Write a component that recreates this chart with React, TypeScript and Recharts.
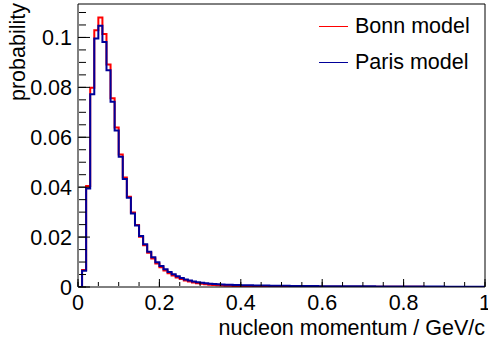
import React from 'react';
import { LineChart, Line, XAxis, YAxis, Legend, Label } from 'recharts';

// lower bin edges (GeV/c), plus the upper edge of the last bin
const binEdges = [
  0, 0.01, 0.02, 0.03, 0.04, 0.05, 0.06, 0.07, 0.08, 0.09,
  0.1, 0.11, 0.12, 0.13, 0.14, 0.15, 0.16, 0.17, 0.18, 0.19,
  0.2, 0.21, 0.22, 0.23, 0.24, 0.25, 0.26, 0.27, 0.28, 0.29,
  0.3, 0.31, 0.32, 0.33, 0.34, 0.35, 0.36, 0.37, 0.38, 0.39,
  0.4, 0.41, 0.42, 0.43, 0.44, 0.45, 0.46, 0.47, 0.48, 0.49,
  0.5, 0.51, 0.52, 0.53, 0.54, 0.55, 0.56, 0.57, 0.58, 0.59,
  0.6, 0.61, 0.62, 0.63, 0.64, 0.65, 0.66, 0.67, 0.68, 0.69,
  0.7, 0.71, 0.72, 0.73, 0.74, 0.75, 0.76, 0.77, 0.78, 0.79,
  0.8, 0.81, 0.82, 0.83, 0.84, 0.85, 0.86, 0.87, 0.88, 0.89,
  0.9, 0.91, 0.92, 0.93, 0.94, 0.95, 0.96, 0.97, 0.98, 0.99,
  1,
];

const bonn = [
  0, 0.0068, 0.0405, 0.0798, 0.1029, 0.108, 0.1014, 0.0892, 0.0756, 0.0639,
  0.0531, 0.0439, 0.0362, 0.0299, 0.0248, 0.0201, 0.0167, 0.0137, 0.0114, 0.0094,
  0.0079, 0.0066, 0.0055, 0.0046, 0.0038, 0.0032, 0.0026, 0.0022, 0.0018, 0.0015,
  0.0013, 0.0011, 0.0009, 0.0008, 0.0007, 0.0006, 0.0005, 0.0005, 0.0004, 0.0004,
  0.0003, 0.0003, 0.0003, 0.0003, 0.0003, 0.0002, 0.0002, 0.0002, 0.0002, 0.0002,
  0.0002, 0.0002, 0.0002, 0.0001, 0.0001, 0.0001, 0.0001, 0.0001, 0.0001, 0.0001,
  0.0001, 0.0001, 0.0001, 0.0001, 0.0001, 0.0001, 0.0001, 0.0001, 0.0001, 0.0001,
  0.0001, 0.0001, 0.0001, 0.0001, 0.0001, 0.0001, 0.0001, 0.0001, 0.0001, 0.0001,
  0.0001, 0.0001, 0.0001, 0.0001, 0.0001, 0, 0, 0, 0, 0,
  0, 0, 0, 0, 0, 0, 0, 0, 0, 0,
];

const paris = [
  0, 0.0065, 0.0395, 0.0772, 0.0996, 0.1047, 0.0982, 0.0869, 0.0742, 0.0627,
  0.0522, 0.0433, 0.0358, 0.0295, 0.0246, 0.0204, 0.0171, 0.0141, 0.0119, 0.0099,
  0.0084, 0.0071, 0.006, 0.0051, 0.0043, 0.0036, 0.003, 0.0026, 0.0022, 0.0019,
  0.0017, 0.0015, 0.0013, 0.0012, 0.0011, 0.001, 0.0009, 0.0009, 0.0008, 0.0008,
  0.0007, 0.0007, 0.0007, 0.0006, 0.0006, 0.0006, 0.0006, 0.0005, 0.0005, 0.0005,
  0.0005, 0.0005, 0.0004, 0.0004, 0.0004, 0.0004, 0.0004, 0.0004, 0.0004, 0.0003,
  0.0003, 0.0003, 0.0003, 0.0003, 0.0003, 0.0003, 0.0003, 0.0003, 0.0003, 0.0003,
  0.0003, 0.0003, 0.0003, 0.0002, 0.0002, 0.0002, 0.0002, 0.0002, 0.0002, 0.0002,
  0.0002, 0.0002, 0.0002, 0.0002, 0.0002, 0.0002, 0.0002, 0.0002, 0.0002, 0.0002,
  0.0001, 0.0001, 0.0001, 0.0001, 0.0001, 0.0001, 0.0001, 0.0001, 0.0001, 0.0001,
];

const xTicks = [0, 0.2, 0.4, 0.6, 0.8, 1];
const xMinorTicks = [
  0, 0.05, 0.1, 0.15, 0.2, 0.25, 0.3, 0.35, 0.4, 0.45, 0.5,
  0.55, 0.6, 0.65, 0.7, 0.75, 0.8, 0.85, 0.9, 0.95, 1,
];
const yTicks = [0, 0.02, 0.04, 0.06, 0.08, 0.1];
const yMinorTicks = [
  0, 0.005, 0.01, 0.015, 0.02, 0.025, 0.03, 0.035, 0.04, 0.045, 0.05, 0.055,
  0.06, 0.065, 0.07, 0.075, 0.08, 0.085, 0.09, 0.095, 0.1, 0.105, 0.11,
];
const yMax = 0.1134;

const seriesNames = { bonn: 'Bonn model', paris: 'Paris model' };
const RED = '#ff0000';
const BLUE = '#000099';
const FONT = '"Liberation Sans", Arial, Helvetica, sans-serif';
const FS = 21.5;

// histogram drawn as steps: the last bin is repeated at the upper edge
const data = binEdges.map((p, i) => {
  const j = Math.min(i, bonn.length - 1);
  return { p, bonn: bonn[j], paris: paris[j] };
});

const tickStyle = { fill: '#000', fontSize: FS, fontFamily: FONT };
const noLabel = () => <g />;

function LegendBox({ payload }: any) {
  return (
    <div style={{ fontFamily: FONT, fontSize: FS, color: '#000' }}>
      {(payload || []).map((item: any) => (
        <div key={item.value} style={{ display: 'flex', alignItems: 'center', height: 36 }}>
          <div style={{ width: 29, height: 0, borderTop: `1.5px solid ${item.color}`, marginRight: 7 }} />
          <span style={{ whiteSpace: 'nowrap' }}>{item.value}</span>
        </div>
      ))}
    </div>
  );
}

export default function App() {
  return (
    <div style={{ position: 'fixed', left: 0, top: 0, width: 488, height: 342, background: '#fff' }}>
      <LineChart width={488} height={342} data={data} margin={{ top: 4, right: 3, left: 0, bottom: 0 }}>
        {/* labelled axes */}
        <XAxis
          xAxisId="main" dataKey="p" type="number" domain={[0, 1]} allowDataOverflow
          ticks={xTicks} interval={0} tickLine={false} tickSize={0} tickMargin={8}
          axisLine={{ stroke: '#000' }} tick={tickStyle} height={55}
          tickFormatter={(v) => String(v)}
        >
          <Label
            content={({ viewBox }: any) => (
              <text x={viewBox.x + viewBox.width} y={335} textAnchor="end"
                fontFamily={FONT} fontSize={FS} fill="#000">
                nucleon momentum / GeV/c
              </text>
            )}
          />
        </XAxis>
        <YAxis
          yAxisId="main" type="number" domain={[0, yMax]} allowDataOverflow
          ticks={yTicks} interval={0} tickLine={false} tickSize={0} tickMargin={6}
          axisLine={{ stroke: '#000' }} tick={tickStyle} width={78}
          tickFormatter={(v) => String(v)}
        >
          <Label
            content={() => (
              <text x={25} y={3} transform="rotate(-90 25 3)" textAnchor="end"
                fontFamily={FONT} fontSize={FS} fill="#000">
                probability
              </text>
            )}
          />
        </YAxis>

        {/* inward ticks (mirrored axes need a non-zero size to be drawn) */}
        <XAxis xAxisId="major" dataKey="p" type="number" domain={[0, 1]} allowDataOverflow mirror height={1}
          ticks={xTicks} interval={0} tick={noLabel} tickSize={8} axisLine={false}
          tickLine={{ stroke: '#000' }} />
        <XAxis xAxisId="minor" dataKey="p" type="number" domain={[0, 1]} allowDataOverflow mirror height={1}
          ticks={xMinorTicks} interval={0} tick={noLabel} tickSize={4} axisLine={false}
          tickLine={{ stroke: '#000' }} />
        <YAxis yAxisId="major" type="number" domain={[0, yMax]} allowDataOverflow mirror width={1}
          ticks={yTicks} interval={0} tick={noLabel} tickSize={12} axisLine={false}
          tickLine={{ stroke: '#000' }} />
        <YAxis yAxisId="minor" type="number" domain={[0, yMax]} allowDataOverflow mirror width={1}
          ticks={yMinorTicks} interval={0} tick={noLabel} tickSize={7} axisLine={false}
          tickLine={{ stroke: '#000' }} />

        {/* frame top and right */}
        <XAxis xAxisId="top" dataKey="p" orientation="top" type="number" domain={[0, 1]} allowDataOverflow
          mirror height={1} tick={false} tickLine={false} axisLine={{ stroke: '#000' }} />
        <YAxis yAxisId="right" orientation="right" type="number" domain={[0, yMax]} allowDataOverflow
          mirror width={1} tick={false} tickLine={false} axisLine={{ stroke: '#000' }} />

        <Legend
          layout="vertical" align="center" verticalAlign="middle"
          content={<LegendBox />}
          wrapperStyle={{ position: 'absolute', left: 319, top: 8, width: 168, height: 72 }}
        />

        <Line xAxisId="main" yAxisId="main" type="stepAfter" dataKey="bonn" name={seriesNames.bonn}
          stroke={RED} strokeWidth={2} dot={false} activeDot={false} isAnimationActive={false} />
        <Line xAxisId="main" yAxisId="main" type="stepAfter" dataKey="paris" name={seriesNames.paris}
          stroke={BLUE} strokeWidth={2} dot={false} activeDot={false} isAnimationActive={false} />
      </LineChart>
    </div>
  );
}
